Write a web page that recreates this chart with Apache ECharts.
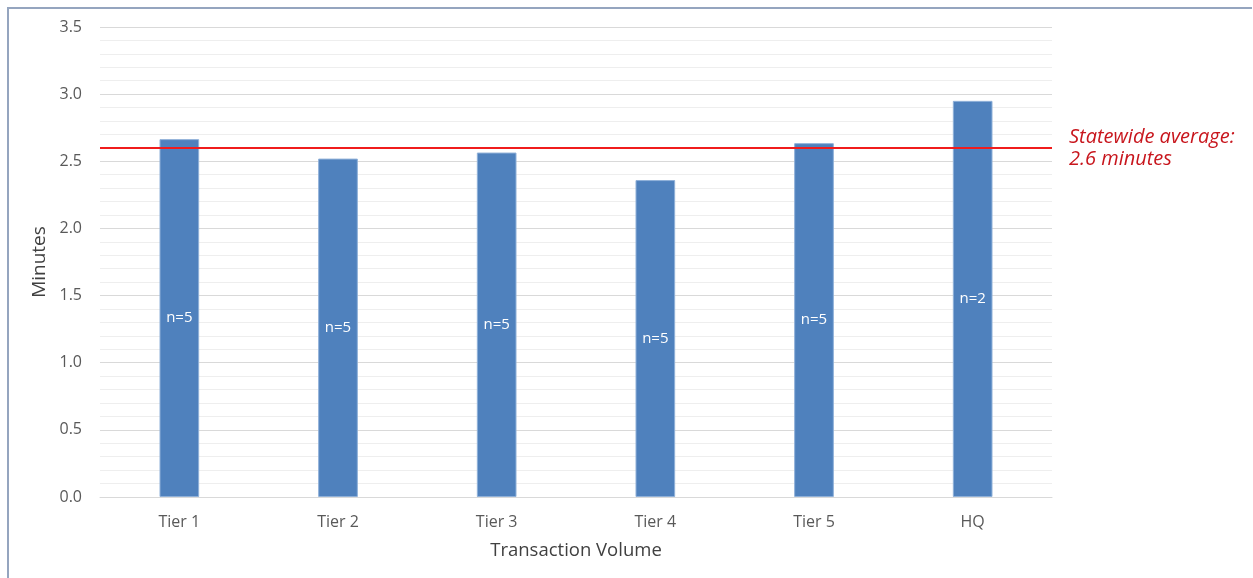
<!DOCTYPE html>
<html>
<head>
<meta charset="utf-8">
<script src="https://cdn.jsdelivr.net/npm/echarts@6/dist/echarts.min.js"></script>
<style>
  html, body { margin: 0; padding: 0; background: #fff; }
  #chart { width: 1253px; height: 578px; }
</style>
</head>
<body>
<div id="chart"></div>
<script>
// Average handling time by office tier
const categories = ['Tier 1', 'Tier 2', 'Tier 3', 'Tier 4', 'Tier 5', 'HQ'];
const minutes = [2.665, 2.52, 2.565, 2.36, 2.635, 2.95];
const officeCounts = ['n=5', 'n=5', 'n=5', 'n=5', 'n=5', 'n=2'];
const statewideAverage = 2.6;
const averageLabel = 'Statewide average:\n2.6 minutes';

const FONT = '"Open Sans", Lato, sans-serif';
const chart = echarts.init(document.getElementById('chart'), null, { renderer: 'canvas' });

chart.setOption({
  animation: false,
  backgroundColor: '#ffffff',
  grid: { left: 100, right: 201, top: 27, bottom: 81, containLabel: false },
  xAxis: {
    type: 'category',
    data: categories,
    name: 'Transaction Volume',
    nameLocation: 'middle',
    nameGap: 44,
    nameTextStyle: { color: '#404040', fontSize: 18.5, fontFamily: FONT },
    axisLine: { show: true, lineStyle: { color: '#d9d9d9', width: 1 } },
    axisTick: { show: false },
    axisLabel: { color: '#595959', fontSize: 16, fontFamily: FONT, margin: 17 }
  },
  yAxis: {
    type: 'value',
    min: 0,
    max: 3.5,
    interval: 0.5,
    name: 'Minutes',
    nameLocation: 'middle',
    nameGap: 48,
    nameRotate: 90,
    nameTextStyle: { color: '#404040', fontSize: 19, fontFamily: FONT },
    axisLine: { show: false },
    axisTick: { show: false },
    axisLabel: {
      color: '#595959', fontSize: 16, fontFamily: FONT, margin: 18,
      formatter: v => v.toFixed(1)
    },
    splitLine: { show: true, lineStyle: { color: '#d9d9d9', width: 1 } },
    minorTick: { show: false, splitNumber: 5 },
    minorSplitLine: { show: true, lineStyle: { color: '#eeeeee', width: 1 } }
  },
  series: [{
    type: 'bar',
    data: minutes.map((v, i) => ({ value: v, label: { formatter: officeCounts[i] } })),
    barWidth: '25%',
    itemStyle: { color: '#4f81bd', borderColor: '#8fb0d8', borderWidth: 1 },
    label: {
      show: true,
      position: 'inside',
      color: '#ffffff',
      fontSize: 15,
      fontFamily: FONT
    },
    markLine: {
      silent: true,
      symbol: ['none', 'none'],
      lineStyle: { color: '#f01c1c', width: 2, type: 'solid' },
      label: {
        show: true,
        position: 'end',
        distance: 17,
        formatter: averageLabel,
        color: '#c8161d',
        fontStyle: 'italic',
        fontSize: 20,
        lineHeight: 22,
        fontFamily: FONT,
        align: 'left'
      },
      data: [{ yAxis: statewideAverage }]
    }
  }],
  graphic: [
    { type: 'line', shape: { x1: 8, y1: 8, x2: 1252, y2: 8 }, style: { stroke: '#95a5bf', lineWidth: 2 } },
    { type: 'line', shape: { x1: 8, y1: 7, x2: 8, y2: 578 }, style: { stroke: '#95a5bf', lineWidth: 2 } }
  ]
});
</script>
</body>
</html>
